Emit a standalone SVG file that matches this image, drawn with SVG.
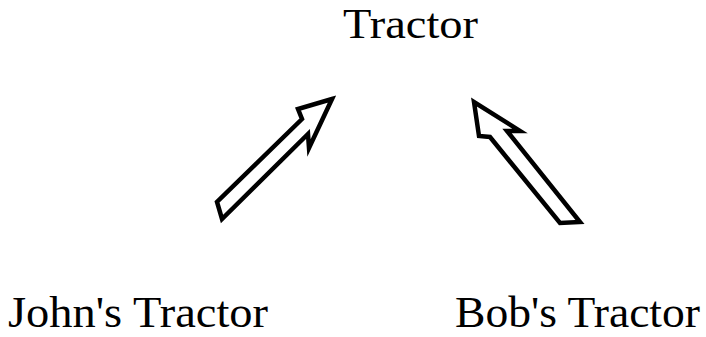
<svg xmlns="http://www.w3.org/2000/svg" width="706" height="337" viewBox="0 0 706 337">
<style>
text{font-family:"Liberation Serif","Times New Roman",serif;fill:#000}
.arr{fill:#fff;stroke:#000;stroke-width:4.5;stroke-linejoin:miter}
</style>
<rect width="706" height="337" fill="#fff"/>
<g id="tractor"><text x="343" y="38" font-size="42" textLength="135" lengthAdjust="spacingAndGlyphs">Tractor</text></g>
<g id="johns"><text x="8" y="327" font-size="44" textLength="260" lengthAdjust="spacingAndGlyphs">John's Tractor</text></g>
<g id="bobs"><text x="455" y="327" font-size="44" textLength="245" lengthAdjust="spacingAndGlyphs">Bob's Tractor</text></g>
<g id="connectors">
<polygon class="arr" points="332,99 298,109 302,119 217,202 222,219 308,134 309,148"/>
<polygon class="arr" points="474,102 479,136 490,137 560,223 580,222 507,131 520,131"/>
</g>
</svg>
